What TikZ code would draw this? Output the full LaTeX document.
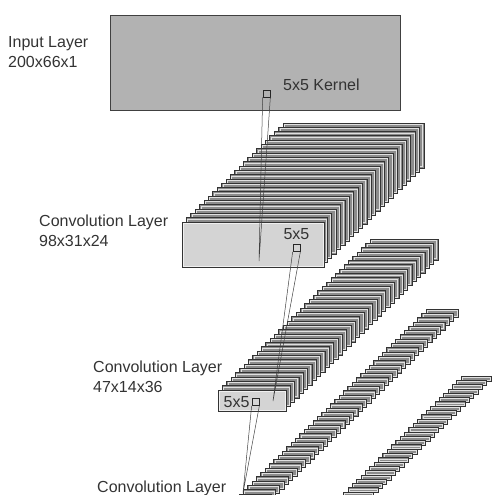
\documentclass[tikz,border=0pt]{standalone}
\usepackage{fontspec}
\setmainfont{Liberation Sans}
\usetikzlibrary{positioning,calc}

\begin{document}
\begin{tikzpicture}[
  x=1pt, y=-1pt,
  lbl/.style={inner sep=0pt, text=black!80, font=\fontsize{16}{20}\selectfont, align=left},
  inlayer/.style={draw=black!75, fill=black!30, line width=0.8pt, inner sep=0pt, anchor=north west},
  fmap/.style={draw=black!80, fill=black!45, line width=0.8pt},
  fmapin/.style={draw=black!12, line width=0.6pt},
  frontmap/.style={draw=black!80, fill=black!17, line width=0.8pt, inner sep=0pt, anchor=north west},
  kernel/.style={draw=black!85, line width=0.7pt, minimum size=7pt, inner sep=0pt},
  link/.style={draw=black!75, line width=0.5pt}
]
  \useasboundingbox (0,0) rectangle (496,495);
  \clip (0,0) rectangle (496,495);
  % Input image
  \node[inlayer, minimum width=290pt, minimum height=95pt] (inp) at (110,15) {};
  % First convolution: 24 maps, back to front
  \foreach \i in {0,...,22} {
    \pgfmathsetmacro\mx{283-4.39*\i}
    \pgfmathsetmacro\my{123+4.3*\i}
    \draw[fmap] (\mx,\my) rectangle ++(141,45);
    \draw[fmapin] (\mx+1.3,\my+1.3) rectangle ++(138.4,42.4);
  }
  \node[frontmap, minimum width=142pt, minimum height=45pt] (c1) at (182,222) {};
  \draw[fmapin, draw=black!6] ([shift={(1.5,1.5)}]c1.north west) rectangle ([shift={(-1.5,-1.5)}]c1.south east);
  % Second convolution: 36 maps
  \foreach \i in {0,...,34} {
    \pgfmathsetmacro\mx{370-4.343*\i}
    \pgfmathsetmacro\my{239+4.314*\i}
    \draw[fmap] (\mx,\my) rectangle ++(68,21);
    \draw[fmapin] (\mx+1.3,\my+1.3) rectangle ++(65.4,18.4);
  }
  \node[frontmap, minimum width=68pt, minimum height=21pt] (c2) at (218,390) {};
  \draw[fmapin, draw=black!6] ([shift={(1.5,1.5)}]c2.north west) rectangle ([shift={(-1.5,-1.5)}]c2.south east);
  % Third convolution: 48 maps (cut by the frame)
  \foreach \i in {0,...,47} {
    \pgfmathsetmacro\mx{426-4.35*\i}
    \pgfmathsetmacro\my{309+4.3*\i}
    \draw[fmap] (\mx,\my) rectangle ++(32,8);
    \draw[fmapin] (\mx+1.2,\my+1.2) rectangle ++(29.6,5.6);
  }
  % Fourth convolution: 64 maps
  \foreach \i in {0,...,63} {
    \pgfmathsetmacro\mx{461-4.35*\i}
    \pgfmathsetmacro\my{376+4.3*\i}
    \draw[fmap] (\mx,\my) rectangle ++(30,5);
    \draw[fmapin] (\mx+1.1,\my+1.1) rectangle ++(27.8,2.8);
  }
  % Kernels and their receptive fields
  \node[kernel] (k0) at (266.5,93.5) {};
  \node[kernel] (k1) at (296.5,248) {};
  \node[kernel] (k2) at (255.5,402) {};
  \coordinate (p1) at (259,261);
  \coordinate (p2) at (273,401);
  \coordinate (p3) at (243,493);
  \draw[link] (k0.south west) -- (p1) -- (k0.south east);
  \draw[link] (k1.south west) -- (p2) -- (k1.south east);
  \draw[link] (k2.south west) -- (p3) -- (k2.south east);
  % Labels
  \node[lbl, anchor=west] (tin) at (8,52) {Input Layer\\200x66x1};
  \node[lbl, anchor=west] (tk0) at (283,85) {5x5 Kernel};
  \node[lbl, above=4pt of k1] (tk1) {5x5};
  \node[lbl, left=2pt of k2] (tk2) {5x5};
  \node[lbl, anchor=west] (tc1) at (39,231) {Convolution Layer\\98x31x24};
  \node[lbl, anchor=west] (tc2) at (93,376.5) {Convolution Layer\\47x14x36};
  \node[lbl, anchor=west] (tc3) at (97,488) {Convolution Layer};
\end{tikzpicture}
\end{document}
